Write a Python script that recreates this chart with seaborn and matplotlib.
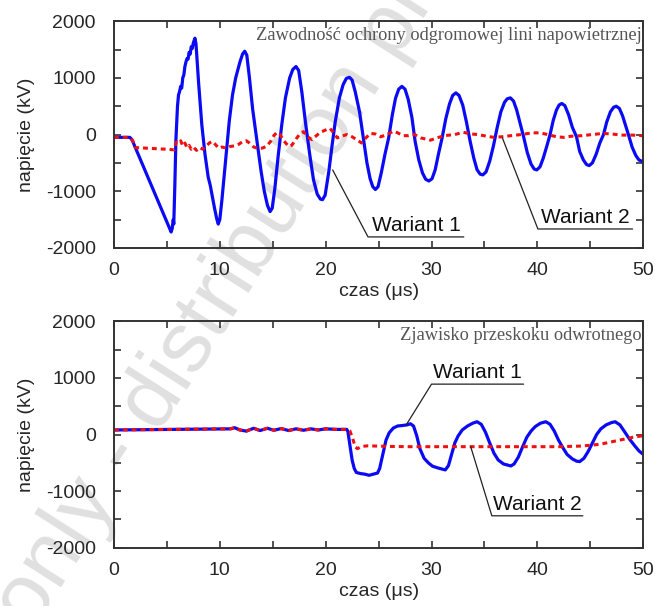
import matplotlib
matplotlib.use("Agg")
import matplotlib.pyplot as plt
import seaborn as sns
from matplotlib.ticker import MultipleLocator

# ----------------------------
# Data
# ----------------------------
# top panel: Wariant 1 (blue, solid)
top_w1_t = [0, 1.5, 1.7, 5.4, 5.5, 5.6, 5.65, 5.75, 5.85, 6.0, 6.1, 6.2, 6.3, 6.4, 6.5, 6.6, 6.7,
            6.8, 6.9, 7.0, 7.1, 7.2, 7.3, 7.4, 7.5, 7.65, 7.75, 8.0, 8.3, 8.6, 8.9, 9.1, 9.3, 9.5,
            9.7, 9.85, 10.0, 10.2, 10.45, 10.65, 10.9, 11.2, 11.5, 11.9, 12.15, 12.35, 12.55, 12.8,
            13.1, 13.35, 13.6, 13.9, 14.2, 14.5, 14.75, 14.95, 15.2, 15.5, 15.85, 16.2, 16.6, 16.9,
            17.2, 17.45, 17.75, 18.1, 18.5, 18.85, 19.2, 19.5, 19.7, 19.95, 20.3, 20.6, 20.9, 21.3,
            21.65, 21.95, 22.25, 22.5, 22.8, 23.2, 23.55, 23.9, 24.2, 24.45, 24.7, 24.95, 25.25,
            25.6, 25.95, 26.3, 26.6, 26.9, 27.2, 27.5, 27.8, 28.15, 28.45, 28.8, 29.15, 29.45,
            29.75, 30.05, 30.35, 30.65, 31.0, 31.35, 31.7, 32.0, 32.3, 32.6, 32.95, 33.3, 33.65,
            34.0, 34.3, 34.6, 34.85, 35.15, 35.5, 35.85, 36.2, 36.55, 36.9, 37.15, 37.45, 37.75,
            38.05, 38.4, 38.7, 39.05, 39.4, 39.7, 39.95, 40.25, 40.55, 40.9, 41.2, 41.5, 41.8,
            42.05, 42.3, 42.6, 42.95, 43.3, 43.7, 44.0, 44.35, 44.65, 44.9, 45.2, 45.55, 45.9,
            46.25, 46.55, 46.9, 47.2, 47.45, 47.75, 48.05, 48.35, 48.6, 48.95, 49.3, 49.6, 50.0]
top_w1_v = [-50, -50, -90, -1720, -1660, -1500, -1580, -900, -100, 500, 700, 760, 850, 820, 1000,
            1050, 1200, 1280, 1340, 1330, 1450, 1420, 1550, 1520, 1620, 1700, 1600, 900, 170, -350,
            -750, -900, -1100, -1300, -1480, -1580, -1500, -1150, -650, -240, 250, 700, 1000, 1280,
            1420, 1470, 1400, 1000, 450, 100, -240, -650, -1000, -1250, -1360, -1300, -950, -400,
            170, 650, 1000, 1150, 1200, 1130, 750, 200, -360, -800, -1050, -1140, -1150, -1070,
            -650, -200, 220, 650, 880, 990, 1010, 960, 750, 400, -50, -500, -780, -920, -970,
            -920, -680, -350, -60, 350, 640, 800, 850, 800, 620, 300, -120, -450, -680, -790,
            -820, -780, -620, -350, -60, 280, 540, 690, 735, 690, 520, 220, -120, -420, -620,
            -700, -712, -660, -470, -200, 120, 400, 570, 630, 647, 590, 430, 180, -40, -320, -520,
            -610, -624, -570, -420, -200, 0, 250, 430, 520, 548, 510, 350, 130, -40, -300, -450,
            -530, -548, -500, -350, -150, 0, 220, 400, 480, 500, 460, 330, 150, 0, -220, -370,
            -450, -480]

# top panel: Wariant 2 (red, dotted)
top_w2_t = [0, 1.5, 1.8, 2.0, 3.0, 4.0, 5.0, 5.7, 5.9, 6.1, 6.3, 6.5, 6.7, 6.9, 7.1, 7.3, 7.5,
            7.8, 8.1, 8.4, 8.7, 9.0, 9.3, 9.6, 9.9, 10.2, 10.6, 11.0, 11.4, 11.8, 12.2, 12.5,
            12.8, 13.2, 13.6, 14.0, 14.4, 14.8, 15.1, 15.4, 15.7, 16.0, 16.5, 16.8, 17.2, 17.6,
            17.9, 18.3, 18.7, 19.0, 19.5, 20.0, 20.4, 20.8, 21.1, 21.5, 22.0, 22.5, 23.0, 23.4,
            23.8, 24.2, 24.7, 25.2, 25.8, 26.4, 26.8, 27.3, 27.8, 28.4, 29.0, 29.9, 30.5, 31.2,
            32.2, 33.0, 33.7, 34.4, 35.2, 35.9, 36.6, 37.5, 38.5, 39.5, 40.2, 41.0, 41.8, 42.5,
            43.2, 44.2, 45.2, 46.2, 47.0, 48.0, 49.0, 50.0]
top_w2_v = [-50, -50, -120, -230, -240, -250, -260, -270, -130, -150, -110, -200, -150, -230,
            -190, -260, -220, -280, -230, -260, -210, -150, -120, -180, -240, -220, -240, -210,
            -200, -170, -120, -110, -150, -220, -245, -240, -210, -120, -20, 40, 0, -100, -210,
            -190, -80, 20, 50, -40, -90, -40, 40, 80, 110, 20, -60, -30, 0, -40, -100, -150,
            -60, 20, 10, -40, 0, 60, 30, -20, -20, 0, -60, -100, -60, -20, 0, 40, 10, 0, -30,
            -50, -40, -20, 0, 30, 30, 0, -40, -50, -30, -20, 0, 20, 10, -10, -10, -20]

# bottom panel: Wariant 1 (blue, solid)
bot_w1_t = [0, 11.0, 11.4, 11.9, 12.5, 13.2, 13.8, 14.5, 15.1, 15.8, 16.5, 17.2, 17.9, 18.6,
            19.3, 20.0, 21.0, 22.0, 22.1, 22.3, 22.5, 22.7, 22.9, 23.3, 23.7, 24.1, 24.5, 24.9,
            25.1, 25.4, 25.7, 26.0, 26.4, 26.8, 27.3, 27.7, 28.0, 28.3, 28.6, 28.9, 29.3, 29.7,
            30.1, 30.6, 31.0, 31.3, 31.6, 31.9, 32.2, 32.5, 32.9, 33.4, 33.9, 34.3, 34.7, 35.1,
            35.5, 35.9, 36.3, 36.8, 37.2, 37.5, 37.8, 38.2, 38.6, 39.0, 39.4, 39.8, 40.3, 40.8,
            41.2, 41.6, 42.0, 42.4, 42.8, 43.3, 43.7, 44.0, 44.4, 44.8, 45.2, 45.6, 46.0, 46.5,
            47.0, 47.35, 47.8, 48.2, 48.7, 49.2, 49.6, 50.0]
bot_w1_v = [80, 100, 120, 80, 60, 110, 70, 110, 75, 105, 70, 100, 75, 100, 80, 100, 90, 90, 50,
            -200, -450, -600, -670, -690, -700, -720, -700, -680, -600, -350, -100, 30, 115, 150,
            160, 170, 190, 150, -20, -250, -420, -500, -560, -590, -610, -625, -550, -350, -150,
            -30, 80, 150, 200, 225, 180, 40, -150, -330, -450, -520, -540, -555, -520, -400,
            -220, -50, 60, 140, 200, 225, 180, 60, -100, -230, -350, -430, -470, -478, -420,
            -300, -150, 0, 100, 170, 210, 225, 170, 60, -80, -200, -290, -350]

# bottom panel: Wariant 2 (red, dotted)
bot_w2_t = [0, 11.0, 11.4, 11.9, 12.5, 13.2, 13.8, 14.5, 15.1, 15.8, 16.5, 17.2, 17.9, 18.6,
            19.3, 20.0, 21.0, 22.0, 22.3, 22.6, 22.8, 23.0, 23.4, 24.0, 26.0, 28.0, 30.0, 34.0,
            38.0, 42.0, 44.0, 45.0, 46.0, 47.0, 48.0, 49.0, 50.0]
bot_w2_v = [80, 100, 120, 80, 60, 110, 70, 110, 75, 105, 70, 100, 75, 100, 80, 100, 90, 90, 60,
            -100, -220, -250, -210, -200, -210, -215, -215, -215, -215, -215, -205, -190, -170,
            -130, -90, -50, -20]

panel_titles = ["Zawodność ochrony odgromowej lini napowietrznej",
                "Zjawisko przeskoku odwrotnego"]
series_names = ["Wariant 1", "Wariant 2"]

# annotations: (curve x, curve y, elbow x, elbow y, underline end x)
top_notes = [(20.66, -625, 24.0, -1807, 33.05),
             (36.7, -62, 40.05, -1667, 49.0)]
bot_notes = [(27.6, 167, 30.0, 889, 38.7),
             (33.7, -214, 35.7, -1435, 44.3)]

BLUE = "#0a0af5"
RED = "#f01010"

sns.set_style("ticks")
plt.rcParams["font.family"] = ["Liberation Sans", "DejaVu Sans"]
plt.rcParams["axes.unicode_minus"] = False

fig = plt.figure(figsize=(6.55, 6.06), dpi=100)
ax_top = fig.add_axes([0.174, 0.591, 0.808, 0.374])
ax_bot = fig.add_axes([0.174, 0.096, 0.808, 0.374])

# watermark behind everything
fig.text(0.33, 0.50, "only - distribution pr", rotation=57.5, fontsize=62,
         color="#e0e0e0", ha="center", va="center", zorder=-5)

panels = [
    (ax_top, top_w1_t, top_w1_v, top_w2_t, top_w2_v, panel_titles[0], top_notes),
    (ax_bot, bot_w1_t, bot_w1_v, bot_w2_t, bot_w2_v, panel_titles[1], bot_notes),
]

for ax, t1, v1, t2, v2, title, notes in panels:
    ax.set_facecolor("none")
    sns.lineplot(x=t1, y=v1, ax=ax, color=BLUE, lw=2.3, sort=False, estimator=None)
    sns.lineplot(x=t2, y=v2, ax=ax, color=RED, lw=2.2, sort=False, estimator=None,
                 dashes=False, linestyle=(0, (1.6, 1.3)))

    ax.set_xlim(0, 50)
    ax.set_ylim(-2000, 2000)
    ax.xaxis.set_major_locator(MultipleLocator(10))
    ax.xaxis.set_minor_locator(MultipleLocator(5))
    ax.yaxis.set_major_locator(MultipleLocator(1000))
    ax.yaxis.set_minor_locator(MultipleLocator(500))
    ax.tick_params(which="both", direction="in", top=True, right=True, length=5,
                   width=1.2, color="#333333", labelsize=14)
    ax.tick_params(axis="y", pad=13)
    ax.tick_params(axis="x", pad=10)
    for sp in ax.spines.values():
        sp.set_visible(True)
        sp.set_color("#333333")
        sp.set_linewidth(1.4)

    ax.set_xlabel("czas (μs)", fontsize=14, labelpad=3)
    ax.set_ylabel("napięcie (kV)", fontsize=14, labelpad=8)

    ax.text(0.997, 0.975, title, transform=ax.transAxes, ha="right", va="top",
            fontsize=13.2, color="#555555", family="Liberation Serif")

    for name, (px, py, ex, ey, ux) in zip(series_names, notes):
        ax.plot([px, ex, ux], [py, ey, ey], color="#222222", lw=0.9)
        ax.text((ex + ux) / 2, ey + 40, name, ha="center", va="bottom", fontsize=15,
                color="#111111")

fig.savefig("out.png", dpi=100)
